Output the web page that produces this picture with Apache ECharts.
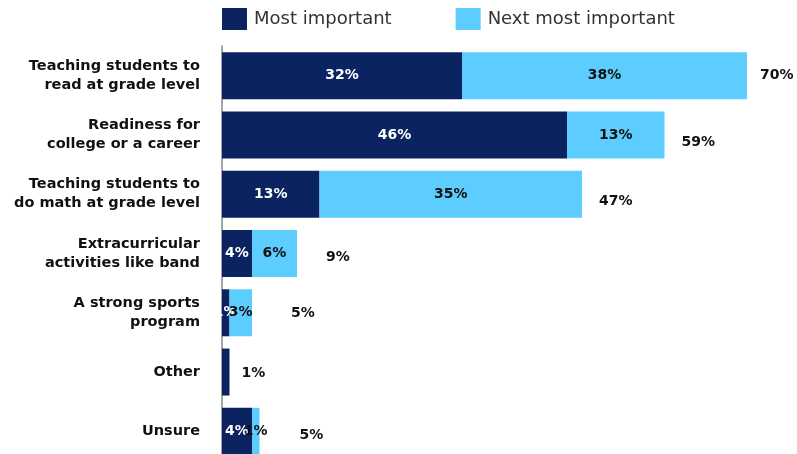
<!DOCTYPE html>
<html>
<head>
<meta charset="utf-8">
<script src="https://cdn.jsdelivr.net/npm/echarts@6/dist/echarts.min.js"></script>
<style>
  html, body { margin: 0; padding: 0; background: #fff; overflow: hidden; }
  #chart { width: 797px; height: 461px; }
</style>
</head>
<body>
<div id="chart"></div>
<script>
const categories = [
  'Teaching students to\nread at grade level',
  'Readiness for\ncollege or a career',
  'Teaching students to\ndo math at grade level',
  'Extracurricular\nactivities like band',
  'A strong sports\nprogram',
  'Other',
  'Unsure'
];
const mostImportant = [32, 46, 13, 4, 1, 1, 4];
const nextMostImportant = [38, 13, 35, 6, 3, 0, 1];
const totals = [70, 59, 47, 9, 5, 1, 5];
const seriesNames = ['Most important', 'Next most important'];

// label placement tweaks for the total labels (style, not data)
const totalOffsets = [[8, 0], [12, 7], [12, 7], [24, 4], [34, 1], [7, 1], [35, 4]];

const FONT = 'DejaVu Sans';
const chart = echarts.init(document.getElementById('chart'), null, { renderer: 'canvas' });

const option = {
  animation: false,
  legend: {
    data: seriesNames,
    top: 3,
    left: 217,
    itemWidth: 25,
    itemHeight: 22,
    itemGap: 64,
    icon: 'rect',
    textStyle: { fontFamily: FONT, fontSize: 18, color: '#333', padding: [0, 0, 0, 2] }
  },
  grid: { left: 222, width: 525, top: 46, bottom: 0, containLabel: false },
  xAxis: {
    type: 'value', min: 0, max: 70,
    show: false
  },
  yAxis: {
    type: 'category',
    data: categories,
    inverse: true,
    axisLine: { show: true, lineStyle: { color: '#888', width: 1.5 } },
    axisTick: { show: false },
    axisLabel: {
      fontFamily: FONT, fontSize: 14.5, fontWeight: 'bold', color: '#111',
      lineHeight: 19, margin: 22, align: 'right'
    }
  },
  series: [
    {
      name: seriesNames[0], type: 'bar', stack: 'a', barWidth: 47,
      itemStyle: { color: '#0b2461' },
      data: mostImportant.map((v, i) => ({
        value: v,
        label: { show: categories[i] !== 'Other' }
      })),
      label: {
        show: true, position: 'inside', color: '#fff',
        fontFamily: FONT, fontSize: 14, fontWeight: 'bold',
        formatter: p => p.value + '%'
      }
    },
    {
      name: seriesNames[1], type: 'bar', stack: 'a', barWidth: 47,
      itemStyle: { color: '#5ccdfe' },
      data: nextMostImportant.map(v => ({ value: v, label: { show: v > 0 } })),
      label: {
        show: true, position: 'inside', color: '#111',
        fontFamily: FONT, fontSize: 14, fontWeight: 'bold',
        formatter: p => p.value + '%'
      }
    },
    {
      name: 'Total', type: 'bar', stack: 'a', barWidth: 47,
      itemStyle: { color: 'rgba(0,0,0,0)' },
      data: totals.map((t, i) => ({
        value: 0,
        label: { offset: totalOffsets[i] }
      })),
      label: {
        show: true, position: 'right', distance: 5, color: '#111',
        fontFamily: FONT, fontSize: 14, fontWeight: 'bold',
        formatter: p => totals[p.dataIndex] + '%'
      }
    }
  ]
};
chart.setOption(option);
</script>
</body>
</html>
